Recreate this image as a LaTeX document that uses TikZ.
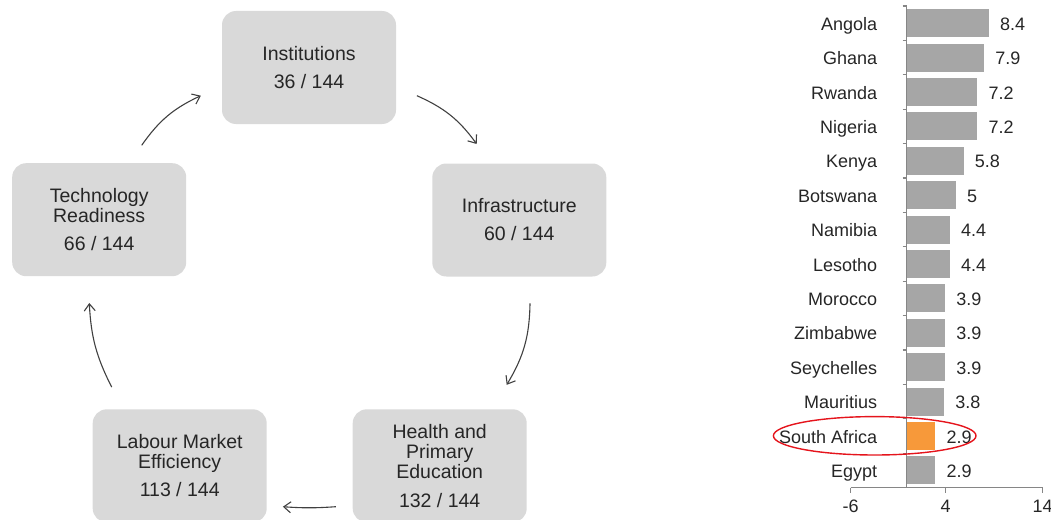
\documentclass[tikz,border=0pt]{standalone}
\usepackage{fontspec}
\setmainfont{Liberation Sans}
\usepackage{tikz}
\usetikzlibrary{calc, arrows.meta}
\definecolor{boxgray}{HTML}{D9D9D9}
\definecolor{bargray}{HTML}{A6A6A6}
\definecolor{barorange}{HTML}{F7993A}
\definecolor{axisgray}{HTML}{868686}
\definecolor{arrowgray}{HTML}{404040}
\definecolor{txtdark}{HTML}{262626}
\definecolor{ringred}{HTML}{E5141C}
\tikzstyle{pillar} = [rectangle, rounded corners=14pt, fill=boxgray, minimum width=174pt, minimum height=113pt, align=center, text=txtdark, font=\fontsize{19.5}{20}\selectfont]
\tikzstyle{cyclearrow} = [draw=arrowgray, line width=1.1pt, -{Straight Barb[length=7pt,width=11pt]}]
\tikzstyle{scorebar} = [rectangle, fill=bargray, minimum height=28pt, inner sep=0pt, anchor=west]
\tikzstyle{country} = [anchor=base east, inner sep=0pt, text=txtdark, font=\fontsize{18}{20}\selectfont]
\tikzstyle{scoretext} = [anchor=base west, inner sep=0pt, text=txtdark, font=\fontsize{18}{20}\selectfont]
\tikzstyle{axisline} = [draw=axisgray, line width=1.2pt]

\begin{document}
\begin{tikzpicture}[x=1pt, y=-1pt]

        \path[use as bounding box, clip] (0,0) rectangle (1051,519);

        \node (inst) [pillar] at (309,67.5) {Institutions\\[8pt]36 / 144};
        \node (infra) [pillar] at (519.3,220) {Infrastructure\\[8pt]60 / 144};
        \node (health) [pillar] at (439.7,465.8) {Health and\\Primary\\Education\\[9pt]132 / 144};
        \node (labour) [pillar] at (179.7,465.8) {Labour Market\\Efficiency\\[8pt]113 / 144};
        \node (tech) [pillar] at (99.2,219.7) {Technology\\Readiness\\[8pt]66 / 144};

        \draw[cyclearrow] ($(tech.north)+(42.5,-17.7)$) to[bend left=15] ($(inst.west)+(-21,28.2)$);
        \draw[cyclearrow] ($(inst.east)+(20.7,28.2)$) to[bend left=15] ($(infra.north)+(-42.6,-19.3)$);
        \draw[cyclearrow] ($(infra.south)+(10.7,26.6)$) to[bend left=15] ($(health.north)+(67,-24.3)$);
        \draw[cyclearrow] ($(health.west)+(-16.7,40.9)$) to[bend left=4] ($(labour.east)+(16,40.9)$);
        \draw[cyclearrow] ($(labour.north)+(-68,-22)$) to[bend left=12] ($(tech.south)+(-9.9,26.6)$);

        \node (angola) [scorebar, minimum width=81.9pt] at (906.7,23.2) {};
        \node (ghana) [scorebar, minimum width=77pt] at (906.7,57.6) {};
        \node (rwanda) [scorebar, minimum width=70.2pt] at (906.7,92) {};
        \node (nigeria) [scorebar, minimum width=70.2pt] at (906.7,126.4) {};
        \node (kenya) [scorebar, minimum width=56.6pt] at (906.7,160.8) {};
        \node (botswana) [scorebar, minimum width=48.8pt] at (906.7,195.2) {};
        \node (namibia) [scorebar, minimum width=42.9pt] at (906.7,229.6) {};
        \node (lesotho) [scorebar, minimum width=42.9pt] at (906.7,264) {};
        \node (morocco) [scorebar, minimum width=38pt] at (906.7,298.4) {};
        \node (zimbabwe) [scorebar, minimum width=38pt] at (906.7,332.8) {};
        \node (seychelles) [scorebar, minimum width=38pt] at (906.7,367.2) {};
        \node (mauritius) [scorebar, minimum width=37.1pt] at (906.7,401.6) {};
        \node (safrica) [scorebar, fill=barorange, minimum width=28.3pt] at (906.7,436) {};
        \node (egypt) [scorebar, minimum width=28.3pt] at (906.7,470.4) {};

        \node (angolaL) [country] at (877.3,30.2) {Angola};
        \node (ghanaL) [country] at (877.3,64.6) {Ghana};
        \node (rwandaL) [country] at (877.3,99) {Rwanda};
        \node (nigeriaL) [country] at (877.3,133.4) {Nigeria};
        \node (kenyaL) [country] at (877.3,167.8) {Kenya};
        \node (botswanaL) [country] at (877.3,202.2) {Botswana};
        \node (namibiaL) [country] at (877.3,236.6) {Namibia};
        \node (lesothoL) [country] at (877.3,271) {Lesotho};
        \node (moroccoL) [country] at (877.3,305.4) {Morocco};
        \node (zimbabweL) [country] at (877.3,339.8) {Zimbabwe};
        \node (seychellesL) [country] at (877.3,374.2) {Seychelles};
        \node (mauritiusL) [country] at (877.3,408.6) {Mauritius};
        \node (safricaL) [country] at (877.3,443) {South Africa};
        \node (egyptL) [country] at (877.3,477.4) {Egypt};

        \node (angolaV) [scoretext] at ($(angola.east)+(11,7)$) {8.4};
        \node (ghanaV) [scoretext] at ($(ghana.east)+(11,7)$) {7.9};
        \node (rwandaV) [scoretext] at ($(rwanda.east)+(11,7)$) {7.2};
        \node (nigeriaV) [scoretext] at ($(nigeria.east)+(11,7)$) {7.2};
        \node (kenyaV) [scoretext] at ($(kenya.east)+(11,7)$) {5.8};
        \node (botswanaV) [scoretext] at ($(botswana.east)+(11,7)$) {5};
        \node (namibiaV) [scoretext] at ($(namibia.east)+(11,7)$) {4.4};
        \node (lesothoV) [scoretext] at ($(lesotho.east)+(11,7)$) {4.4};
        \node (moroccoV) [scoretext] at ($(morocco.east)+(11,7)$) {3.9};
        \node (zimbabweV) [scoretext] at ($(zimbabwe.east)+(11,7)$) {3.9};
        \node (seychellesV) [scoretext] at ($(seychelles.east)+(11,7)$) {3.9};
        \node (mauritiusV) [scoretext] at ($(mauritius.east)+(11,7)$) {3.8};
        \node (safricaV) [scoretext] at ($(safrica.east)+(11,7)$) {2.9};
        \node (egyptV) [scoretext] at ($(egypt.east)+(11,7)$) {2.9};

        \draw[axisline] (906.7,6) -- (906.7,487.7);
        \draw[axisline] (902.7,6) -- (906.7,6) (902.7,40.4) -- (906.7,40.4) (902.7,74.8) -- (906.7,74.8)
            (902.7,109.2) -- (906.7,109.2) (902.7,143.6) -- (906.7,143.6) (902.7,178) -- (906.7,178)
            (902.7,212.4) -- (906.7,212.4) (902.7,246.8) -- (906.7,246.8) (902.7,281.2) -- (906.7,281.2)
            (902.7,315.6) -- (906.7,315.6) (902.7,350) -- (906.7,350) (902.7,384.4) -- (906.7,384.4)
            (902.7,418.8) -- (906.7,418.8) (902.7,453.2) -- (906.7,453.2);
        \draw[axisline] (850.7,487.7) -- (1042.7,487.7);
        \draw[axisline] (850.7,487.7) -- (850.7,493) (945.7,487.7) -- (945.7,493) (1042.7,487.7) -- (1042.7,493);

        \node (tickA) [scoretext, anchor=base] at (850.7,512.3) {-6};
        \node (tickB) [scoretext, anchor=base] at (945.7,512.3) {4};
        \node (tickC) [scoretext, anchor=base] at (1042.7,512.3) {14};

        \draw[draw=ringred, line width=1.4pt] (874.7,435.8) ellipse [x radius=101.3, y radius=19.2];

    \end{tikzpicture}
\end{document}
